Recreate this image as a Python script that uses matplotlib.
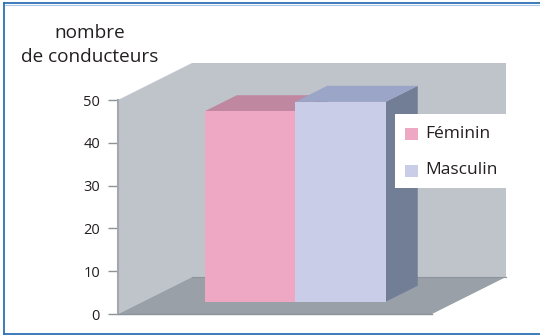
import matplotlib
matplotlib.use("Agg")
import matplotlib.pyplot as plt
from matplotlib.patches import Polygon, Rectangle
from matplotlib.lines import Line2D

plt.rcParams['font.family'] = ['Open Sans', 'DejaVu Sans']

# Data
categories = ["Féminin", "Masculin"]
values = [44.5, 46.7]
yticks = [0, 10, 20, 30, 40, 50]
ylabel_lines = ["nombre", "de conducteurs"]

# Colours
wall_col = "#bfc3ca"
floor_col = "#9aa0a8"
front_cols = ["#eea8c4", "#c9cde8"]
top_cols = ["#c088a0", "#9aa5c8"]
side_cols = ["#a07088", "#727e96"]
text_col = "#231f20"

W, H = 540, 335
fig = plt.figure(figsize=(W / 100, H / 100), dpi=100)

# axes area in pixels (value axis from 0 to 50)
ax_left, ax_right = 118, 432
ax_top, ax_bottom = 100, 314
ax = fig.add_axes([ax_left / W, (H - ax_bottom) / H,
                   (ax_right - ax_left) / W, (ax_bottom - ax_top) / H])

ymax = 50
px_per_unit_y = (ax_bottom - ax_top) / ymax
px_per_unit_x = 90.5
xc0 = 250  # pixel centre of first category
x0 = (ax_left - xc0) / px_per_unit_x
x1 = (ax_right - xc0) / px_per_unit_x
ax.set_xlim(x0, x1)
ax.set_ylim(0, ymax)

# oblique depth offsets (data units)
wall_dx, wall_dy = 74 / px_per_unit_x, 37 / px_per_unit_y
bar_base = 12.3 / px_per_unit_y
bar_dx, bar_dy = 32 / px_per_unit_x, 16 / px_per_unit_y

def poly(pts, color, z):
    ax.add_patch(Polygon(pts, closed=True, facecolor=color, edgecolor="none",
                         clip_on=False, zorder=z))

# back wall, left wall, floor
poly([(x0 + wall_dx, wall_dy), (x1 + wall_dx, wall_dy),
      (x1 + wall_dx, ymax + wall_dy), (x0 + wall_dx, ymax + wall_dy)], wall_col, 1)
poly([(x0, 0), (x0 + wall_dx, wall_dy), (x0 + wall_dx, ymax + wall_dy), (x0, ymax)],
     wall_col, 1)
poly([(x0, 0), (x1, 0), (x1 + wall_dx, wall_dy), (x0 + wall_dx, wall_dy)], floor_col, 1.5)
ax.plot([x0 + wall_dx, x1 + wall_dx], [wall_dy, wall_dy], color="#8e949c", lw=0.8,
        clip_on=False, zorder=1.6)

# pseudo-3D bars
for i, (v, fc, tc, sc) in enumerate(zip(values, front_cols, top_cols, side_cols)):
    l, r = i - 0.5, i + 0.5
    b, t = bar_base, bar_base + v
    z = 2 + i
    poly([(r, b), (r + bar_dx, b + bar_dy), (r + bar_dx, t + bar_dy), (r, t)], sc, z)
    poly([(l, t), (r, t), (r + bar_dx, t + bar_dy), (l + bar_dx, t + bar_dy)], tc, z)
    ax.add_patch(Rectangle((l, b), 1, v, facecolor=fc, edgecolor="none",
                           clip_on=False, zorder=z))

ax.patch.set_visible(False)
for s in ("top", "right"):
    ax.spines[s].set_visible(False)
ax.spines["left"].set_color("#a4a8ae")
ax.spines["left"].set_linewidth(1.5)
ax.spines["bottom"].set_color("#8c9299")
ax.spines["bottom"].set_linewidth(1.0)
ax.spines["left"].set_zorder(1.8)
ax.spines["bottom"].set_zorder(1.8)
ax.set_xticks([])
ax.set_yticks(yticks)
ax.tick_params(axis="y", length=7.5, width=1, color="#8c9299", pad=5.5,
               labelsize=10.5, labelcolor=text_col)

# axis title
fig.text(90 / W, 1 - 33 / H, ylabel_lines[0], ha="center", va="center",
         fontsize=13.7, color=text_col)
fig.text(90 / W, 1 - 57 / H, ylabel_lines[1], ha="center", va="center",
         fontsize=13.7, color=text_col)

# legend box
fig.patches.append(Rectangle((395 / W, 1 - 188 / H), 111 / W, 74 / H,
                             transform=fig.transFigure, facecolor="white",
                             edgecolor="none", zorder=10))
for k, (name, col) in enumerate(zip(categories, front_cols)):
    cy = 134 + k * 36.5
    fig.patches.append(Rectangle((405 / W, 1 - (cy + 6) / H), 12.5 / W, 12 / H,
                                 transform=fig.transFigure, facecolor=col,
                                 edgecolor="none", zorder=11))
    fig.text(425 / W, 1 - cy / H, name, ha="left", va="center", fontsize=12.5,
             color=text_col, zorder=12)

# outer frame: top, left and bottom rules
frame_col = "#2e6fb5"
for xs, ys in (([4, W], [3, 3]), ([4, 4], [3, 333.5]), ([4, W], [333.5, 333.5])):
    fig.add_artist(Line2D([x / W for x in xs], [1 - y / H for y in ys],
                          transform=fig.transFigure, color=frame_col, lw=1.3,
                          zorder=20))
fig.add_artist(Line2D([5 / W, 1], [1 - 4.5 / H, 1 - 4.5 / H], transform=fig.transFigure,
                      color="#a9c8e8", lw=0.8, zorder=20))

fig.savefig("out.png", dpi=100)
